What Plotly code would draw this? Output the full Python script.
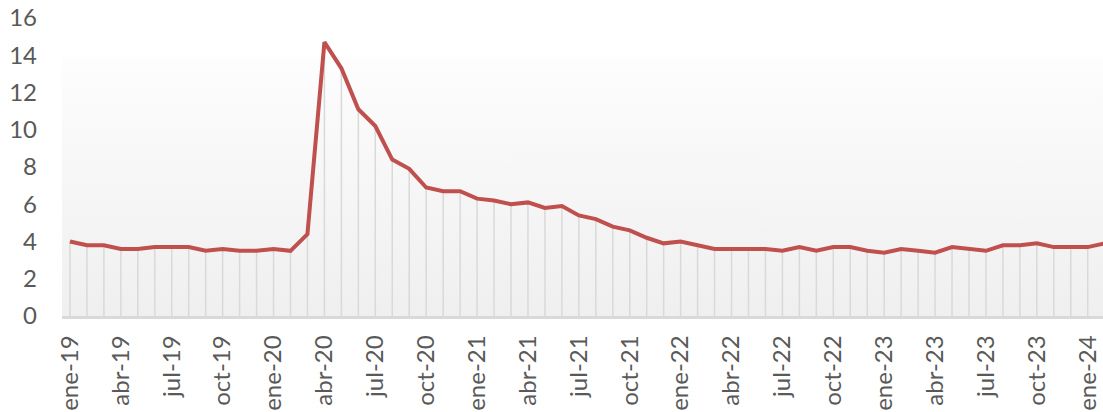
import plotly.graph_objects as go

months = ["ene", "feb", "mar", "abr", "may", "jun", "jul", "ago", "sep", "oct", "nov", "dic"]
years = ["19", "20", "21", "22", "23", "24"]
dates = [f"{m}-{y}" for y in years for m in months][:62]  # ene-19 .. feb-24

unemployment = [
    4.0, 3.8, 3.8, 3.6, 3.6, 3.7, 3.7, 3.7, 3.5, 3.6, 3.5, 3.5,   # 2019
    3.6, 3.5, 4.4, 14.7, 13.3, 11.1, 10.2, 8.4, 7.9, 6.9, 6.7, 6.7,  # 2020
    6.3, 6.2, 6.0, 6.1, 5.8, 5.9, 5.4, 5.2, 4.8, 4.6, 4.2, 3.9,   # 2021
    4.0, 3.8, 3.6, 3.6, 3.6, 3.6, 3.5, 3.7, 3.5, 3.7, 3.7, 3.5,   # 2022
    3.4, 3.6, 3.5, 3.4, 3.7, 3.6, 3.5, 3.8, 3.8, 3.9, 3.7, 3.7,   # 2023
    3.7, 3.9,                                                     # 2024
]

y_ticks = [0, 2, 4, 6, 8, 10, 12, 14, 16]
tick_step = 3

idx = list(range(len(unemployment)))
x_range = [-0.47, 60.9]
bg_top = 13.9

# drop lines
drop_x, drop_y = [], []
for i, v in zip(idx, unemployment):
    drop_x += [i, i, None]
    drop_y += [0, v, None]

fig = go.Figure()

# gradient plot-area background
fig.add_trace(go.Scatter(
    x=x_range, y=[bg_top, bg_top], mode="lines", line=dict(width=0),
    fill="tozeroy",
    fillgradient=dict(type="vertical", colorscale=[[0, "#efefef"], [1, "#fdfdfd"]], start=0, stop=bg_top),
    hoverinfo="skip", showlegend=False,
))

fig.add_trace(go.Scatter(
    x=drop_x, y=drop_y, mode="lines",
    line=dict(color="#d9d9d9", width=1.5),
    hoverinfo="skip", showlegend=False,
))

fig.add_trace(go.Scatter(
    x=idx, y=unemployment, mode="lines",
    line=dict(color="#c0504d", width=4),
    text=dates, showlegend=False,
))

font_family = "Lato"
fig.update_layout(
    width=1103, height=412,
    margin=dict(l=62, r=0, t=18, b=96),
    paper_bgcolor="white", plot_bgcolor="white",
    font=dict(family=font_family, size=24, color="#595959"),
    xaxis=dict(
        range=x_range, showgrid=False, zeroline=False,
        showline=True, linecolor="#d9d9d9", linewidth=2.5,
        tickmode="array",
        tickvals=idx[::tick_step], ticktext=dates[::tick_step],
        tickangle=-90, ticks="", ticklabelstandoff=7,
        automargin=False, ticklabeloverflow="allow",
    ),
    yaxis=dict(
        range=[0, 16], tickvals=y_ticks, showgrid=False, zeroline=False,
        showline=False, ticks="", ticklabelstandoff=24, automargin=False,
        ticklabeloverflow="allow",
    ),
)

fig.write_html(
    "out.html",
    config={"displayModeBar": False},
    post_script="document.body.style.margin='0px';",
)
